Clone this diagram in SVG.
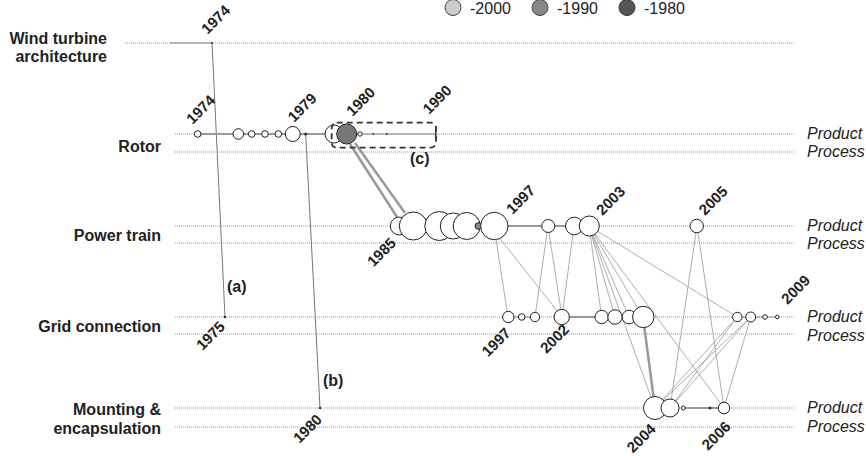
<svg xmlns="http://www.w3.org/2000/svg" width="866" height="456" viewBox="0 0 866 456">
<style>
.lane{stroke:#999;stroke-width:1;stroke-dasharray:1 1;fill:none}
.cat{font-family:"Liberation Sans",Arial,sans-serif;font-weight:bold;font-size:16px;fill:#222;text-anchor:end}
.pp{font-family:"Liberation Sans",Arial,sans-serif;font-style:italic;font-size:16px;fill:#222}
.yr{font-family:"Liberation Sans",Arial,sans-serif;font-weight:bold;font-size:15px;fill:#222}
.ye{font-family:"Liberation Sans",Arial,sans-serif;font-weight:bold;font-size:15px;fill:#222;text-anchor:end}
.lg{font-family:"Liberation Sans",Arial,sans-serif;font-size:16px;fill:#222}
.lt{font-family:"Liberation Sans",Arial,sans-serif;font-weight:bold;font-size:16px;fill:#222}
.n{fill:#fff;stroke:#222;stroke-width:1}
.d{fill:#333;stroke:none}
.c{stroke:#999;stroke-width:0.8;fill:none}
.t{stroke:#999;stroke-width:2.5;fill:none}
.ch{stroke:#999;stroke-width:2;fill:none}
.v{stroke:#777;stroke-width:1;fill:none}
</style>
<g id="legend">
<circle cx="453" cy="7.5" r="8" fill="#ccc" stroke="#444"/>
<text class="lg" x="470" y="13.5">-2000</text>
<circle cx="540" cy="7.5" r="8" fill="#888" stroke="#444"/>
<text class="lg" x="557" y="13.5">-1990</text>
<circle cx="627" cy="7.5" r="8" fill="#555" stroke="#333"/>
<text class="lg" x="644" y="13.5">-1980</text>
</g>
<g id="lanes">
<line class="lane" x1="125" y1="43" x2="795" y2="43"/>
<line class="lane" x1="175" y1="134" x2="795" y2="134"/>
<line class="lane" x1="175" y1="152" x2="795" y2="152"/>
<line class="lane" x1="175" y1="226" x2="795" y2="226"/>
<line class="lane" x1="175" y1="243" x2="795" y2="243"/>
<line class="lane" x1="175" y1="317" x2="795" y2="317"/>
<line class="lane" x1="175" y1="334" x2="795" y2="334"/>
<line class="lane" x1="175" y1="408" x2="795" y2="408"/>
<line class="lane" x1="175" y1="427" x2="795" y2="427"/>
</g>
<g id="labels">
<text class="cat" x="107" y="44">Wind turbine</text>
<text class="cat" x="107" y="62">architecture</text>
<text class="cat" x="161" y="152">Rotor</text>
<text class="cat" x="161" y="240.5">Power train</text>
<text class="cat" x="161" y="331.5">Grid connection</text>
<text class="cat" x="161" y="415">Mounting &amp;</text>
<text class="cat" x="161" y="434">encapsulation</text>
<text class="pp" x="807" y="138.5">Product</text>
<text class="pp" x="807" y="157">Process</text>
<text class="pp" x="807" y="230.5">Product</text>
<text class="pp" x="807" y="249">Process</text>
<text class="pp" x="807" y="322">Product</text>
<text class="pp" x="807" y="341">Process</text>
<text class="pp" x="807" y="412.5">Product</text>
<text class="pp" x="807" y="431.5">Process</text>
</g>
<g id="connectors">
<line class="v" x1="212" y1="43" x2="225" y2="317"/>
<line class="v" x1="305.7" y1="134" x2="320" y2="408"/>
<line class="t" x1="350" y1="144" x2="397" y2="217"/>
<line class="t" x1="355" y1="143" x2="405" y2="213"/>
<line class="c" x1="494" y1="226" x2="508" y2="317"/>
<line class="c" x1="498" y1="236" x2="562" y2="317"/>
<line class="c" x1="548" y1="226" x2="535" y2="317"/>
<line class="c" x1="548" y1="226" x2="562" y2="317"/>
<line class="c" x1="574" y1="226" x2="562" y2="317"/>
<line class="c" x1="589" y1="226" x2="601.7" y2="317"/>
<line class="c" x1="589" y1="226" x2="615" y2="317"/>
<line class="c" x1="589" y1="226" x2="655" y2="408"/>
<line class="c" x1="589" y1="226" x2="629" y2="317"/>
<line class="c" x1="589" y1="226" x2="643" y2="317"/>
<line class="c" x1="589" y1="226" x2="724" y2="408"/>
<line class="c" x1="589" y1="226" x2="737.3" y2="317"/>
<line class="c" x1="697" y1="226" x2="670" y2="408"/>
<line class="c" x1="697" y1="226" x2="724" y2="408"/>
<line class="t" x1="643" y1="317" x2="655" y2="408"/>
<line class="c" x1="737" y1="317" x2="655" y2="408"/>
<line class="c" x1="737" y1="317" x2="670" y2="408"/>
<line class="c" x1="750.7" y1="317" x2="655" y2="408"/>
<line class="c" x1="750.7" y1="317" x2="670" y2="408"/>
<line class="c" x1="750.7" y1="317" x2="724" y2="408"/>
</g>
<g id="chains">
<line stroke="#888" stroke-width="1.2" x1="170" y1="43" x2="212" y2="43"/>
<line class="ch" x1="198" y1="134" x2="360" y2="134"/>
<line stroke="#888" stroke-width="1.2" x1="360" y1="134" x2="436" y2="134"/>
<line class="ch" x1="399" y1="226" x2="589" y2="226"/>
<line stroke="#999" stroke-width="1.2" x1="508" y1="317" x2="535" y2="317"/>
<line class="ch" x1="562" y1="317" x2="643" y2="317"/>
<line stroke="#999" stroke-width="1.2" x1="737" y1="317" x2="777" y2="317"/>
<line class="ch" x1="683" y1="408" x2="724" y2="408"/>
</g>
<g id="rotor-nodes">
<circle class="n" cx="197.7" cy="134" r="3.3"/>
<circle class="n" cx="238.3" cy="134" r="5.3"/>
<circle class="n" cx="251.7" cy="134" r="3.3"/>
<circle class="n" cx="265" cy="134" r="3.3"/>
<circle class="n" cx="278.3" cy="134" r="3.3"/>
<circle class="n" cx="292.7" cy="134" r="7.5"/>
<circle class="d" cx="305.7" cy="134" r="1.6"/>
<circle class="n" cx="334" cy="134" r="9"/>
<circle cx="346.7" cy="134" r="10" fill="#777" stroke="#222"/>
<circle class="n" cx="360" cy="134" r="2.2"/>
<circle class="d" cx="373.3" cy="134" r="0.9"/>
<circle class="d" cx="386.7" cy="134" r="0.9"/>
<line stroke="#333" stroke-width="1.5" x1="435.7" y1="130" x2="435.7" y2="138"/>
<rect x="331.7" y="122.7" width="104.3" height="25" rx="5" fill="none" stroke="#333" stroke-width="1.8" stroke-dasharray="6 4"/>
</g>
<g id="architecture-node"><circle class="d" cx="212" cy="43" r="1"/></g>
<g id="powertrain-nodes">
<circle class="n" cx="399.3" cy="226" r="9"/>
<circle class="n" cx="413.3" cy="226" r="14"/>
<circle class="n" cx="439.3" cy="226" r="14.5"/>
<circle class="n" cx="453.3" cy="226" r="13"/>
<circle class="n" cx="466.7" cy="226" r="13.5"/>
<circle cx="478.3" cy="226" r="3.3" fill="#888" stroke="#222"/>
<circle class="n" cx="494.3" cy="226" r="13.7"/>
<circle class="n" cx="548.3" cy="226" r="6.5"/>
<circle class="n" cx="574.3" cy="226" r="8.8"/>
<circle class="n" cx="589.3" cy="226" r="10"/>
<circle class="n" cx="696.7" cy="226" r="6.7"/>
</g>
<g id="grid-nodes">
<circle class="d" cx="225" cy="317" r="1.3"/>
<circle class="n" cx="508.3" cy="317" r="5.7"/>
<circle class="n" cx="521.7" cy="317" r="3.3"/>
<circle class="n" cx="535" cy="317" r="4.7"/>
<circle class="n" cx="561.7" cy="317" r="7.7"/>
<circle class="n" cx="601.7" cy="317" r="6.7"/>
<circle class="n" cx="615" cy="317" r="7.2"/>
<circle class="n" cx="629" cy="317" r="6.8"/>
<circle class="n" cx="643.3" cy="317" r="10.7"/>
<circle class="n" cx="737.3" cy="317" r="4.7"/>
<circle class="n" cx="750.7" cy="317" r="5"/>
<circle class="n" cx="765" cy="317" r="2.3"/>
<circle class="n" cx="777.3" cy="317" r="1.8"/>
</g>
<g id="mounting-nodes">
<circle class="d" cx="320" cy="408" r="1.3"/>
<circle class="n" cx="655" cy="408" r="11.5"/>
<circle class="n" cx="670" cy="408" r="9"/>
<circle class="n" cx="683.3" cy="408" r="2"/>
<circle class="d" cx="710" cy="408" r="1.5"/>
<circle class="n" cx="724" cy="408" r="5.8"/>
</g>
<g id="years">
<text class="yr" transform="translate(207.5,35) rotate(-45)">1974</text>
<text class="yr" transform="translate(192.5,125) rotate(-45)">1974</text>
<text class="yr" transform="translate(294,123) rotate(-45)">1979</text>
<text class="yr" transform="translate(352.5,117) rotate(-45)">1980</text>
<text class="yr" transform="translate(429,115) rotate(-45)">1990</text>
<text class="yr" transform="translate(512.5,215) rotate(-45)">1997</text>
<text class="yr" transform="translate(602.5,216) rotate(-45)">2003</text>
<text class="yr" transform="translate(705,216) rotate(-45)">2005</text>
<text class="yr" transform="translate(787.5,305) rotate(-45)">2009</text>
<text class="ye" transform="translate(397,244) rotate(-45)">1985</text>
<text class="ye" transform="translate(226,327.5) rotate(-45)">1975</text>
<text class="ye" transform="translate(511.7,334) rotate(-45)">1997</text>
<text class="ye" transform="translate(570,330.5) rotate(-45)">2002</text>
<text class="ye" transform="translate(323,420.5) rotate(-45)">1980</text>
<text class="ye" transform="translate(656.7,430) rotate(-45)">2004</text>
<text class="ye" transform="translate(731.7,427.5) rotate(-45)">2006</text>
<text class="lt" x="227" y="292">(a)</text>
<text class="lt" x="323" y="386">(b)</text>
<text class="lt" x="410" y="164">(c)</text>
</g>
</svg>
